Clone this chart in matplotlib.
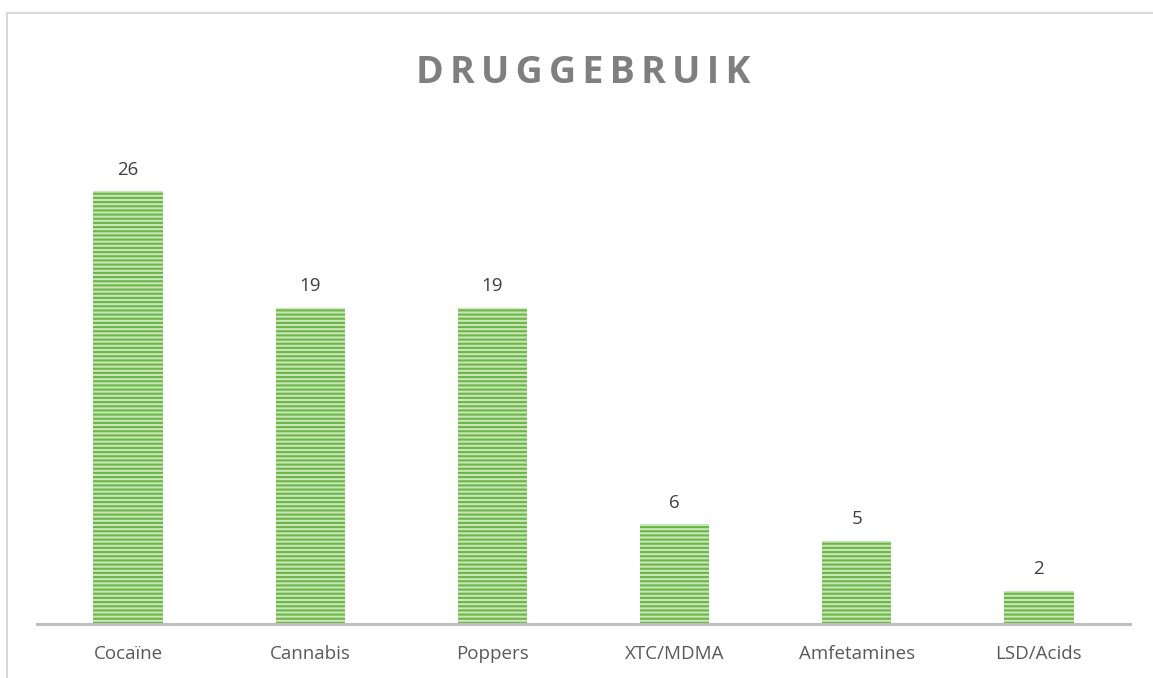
import matplotlib.pyplot as plt
from matplotlib.patches import Rectangle

# --- data ---
categories = ['Cocaïne', 'Cannabis', 'Poppers', 'XTC/MDMA', 'Amfetamines', 'LSD/Acids']
counts = [26, 19, 19, 6, 5, 2]

plt.rcParams['font.family'] = ['Open Sans', 'DejaVu Sans']
plt.rcParams['hatch.linewidth'] = 1.5

fig = plt.figure(figsize=(11.53, 6.78), dpi=100)
W, H = 1153, 678

# chart frame (cut off on right and bottom)
fig.patches.append(Rectangle((7 / W, -0.1), 1.2, (678 - 13) / H + 0.1, transform=fig.transFigure,
                             fill=False, edgecolor='#d9d9d9', linewidth=1.5))

ax = fig.add_axes([37 / W, 54 / H, (1130 - 37) / W, (624 - 100) / H])
x = range(len(categories))
bars = ax.bar(x, counts, width=0.38, color='#c9e6b8', edgecolor='#6cb648',
              linewidth=0, hatch='----')

for xi, v in zip(x, counts):
    ax.annotate(str(v), (xi, v), xytext=(0, 9), textcoords='offset points',
                ha='center', va='bottom', fontsize=13.5, color='#404040')

ax.set_xlim(-0.5, len(categories) - 0.5)
ax.set_ylim(0, (624 - 100) / 16.65)
ax.set_xticks(list(x))
ax.set_xticklabels(categories, fontsize=13.5, color='#595959')
ax.tick_params(axis='x', length=0, pad=15)
ax.set_yticks([])
for s in ['top', 'right', 'left']:
    ax.spines[s].set_visible(False)
ax.spines['bottom'].set_color('#bfbfbf')
ax.spines['bottom'].set_linewidth(2.2)

title = '\u2006'.join('DRUGGEBRUIK')
fig.text(583 / W, 1 - 73 / H, title, ha='center', va='center', fontsize=27,
         fontweight='bold', color='#7f7f7f')

fig.savefig('out.png', dpi=100)
